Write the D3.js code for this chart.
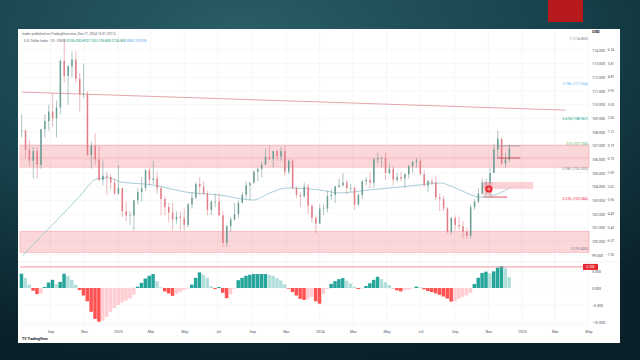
<!DOCTYPE html>
<html><head><meta charset="utf-8">
<script src="https://cdn.jsdelivr.net/npm/d3@7"></script>
<style>html,body{margin:0;padding:0;background:#0e2f38;overflow:hidden}svg{display:block}</style>
</head><body><svg id="c" width="640" height="360"></svg>
<script>
// ---------------- DATA ----------------
const firstWeek = "2022-07-11";   // weekly candles, Monday of each week
const opens  = [108.1,108.1,106.7,105.9,106.6,105.6,108.2,108.8,109.5,109.0,109.8,113.2,112.1,112.8,113.3,111.9,110.8,110.8,106.3,107.0,106.0,104.5,104.8,104.7,104.3,
 103.5,103.9,102.2,101.9,101.9,103.0,103.6,103.9,105.2,104.5,104.6,103.9,103.1,102.5,102.1,101.6,101.8,101.7,101.2,102.7,103.2,104.2,104.0,103.5,102.3,102.9,102.9,101.9,99.9,101.1,101.6,102.0,102.8,103.4,104.1,104.3,105.1,105.3,105.6,106.2,106.0,106.6,106.2,106.6,105.1,105.9,103.9,103.4,103.3,104.0,102.6,101.7,
 101.3,102.4,102.4,103.3,103.4,104.0,104.1,104.3,103.9,103.9,102.7,103.4,104.4,104.5,104.3,106.0,106.1,106.1,105.0,105.3,104.5,104.7,104.6,104.9,105.5,105.8,105.9,104.9,104.1,104.4,104.3,103.2,103.1,102.4,100.7,101.7,101.2,101.1,100.7,100.4,102.5,102.9,103.5,104.3,104.3,105.0,106.7,107.5,105.7,106.0];
const highs  = [109.3,108.2,107.4,106.9,106.9,108.2,109.3,110.0,110.8,110.3,113.3,114.8,112.9,113.9,113.9,112.3,113.0,111.0,107.3,107.9,107.0,105.9,105.1,104.9,104.6,
 105.6,103.9,102.9,102.2,103.0,103.9,104.7,105.3,105.4,105.9,105.1,104.0,103.3,102.8,102.8,102.2,102.2,102.4,102.8,103.6,104.3,104.7,104.4,103.7,103.0,103.5,103.5,102.2,101.2,101.8,102.8,103.0,103.6,104.4,104.2,105.2,105.4,105.8,106.8,107.0,106.6,106.7,106.9,107.0,106.0,106.0,104.0,103.6,104.3,104.2,102.7,101.9,
 102.7,102.7,103.7,103.8,104.1,104.6,105.0,104.5,104.2,104.0,103.5,104.5,104.7,105.1,106.1,106.5,106.2,106.5,105.7,105.5,105.0,105.1,105.0,105.6,105.9,106.1,106.0,105.2,104.5,104.6,104.8,103.5,103.3,102.5,101.8,101.9,101.8,101.5,101.0,102.7,103.1,103.9,104.6,104.6,105.4,107.1,108.1,107.6,106.5,107.1];
const lows   = [107.6,106.1,105.5,104.6,104.6,105.3,107.6,108.1,108.4,107.6,109.3,111.6,110.0,112.0,111.6,109.5,110.5,106.3,105.3,105.6,104.4,104.1,103.4,103.8,103.4,
 103.4,101.8,101.5,101.2,100.8,102.7,102.9,103.7,104.1,104.2,103.5,101.9,101.9,101.4,100.8,101.3,100.8,100.8,101.0,102.4,103.1,103.4,103.4,101.9,101.9,102.5,101.8,99.6,99.6,100.7,101.5,101.7,102.8,103.1,103.0,104.2,104.4,104.7,105.6,106.0,105.4,105.9,105.9,104.8,104.9,103.8,103.2,102.5,103.2,102.0,101.4,100.6,
 101.3,101.9,102.1,103.0,102.8,103.9,104.0,103.4,103.6,102.3,102.6,103.1,104.1,103.9,103.9,105.7,105.4,104.5,104.9,104.1,104.3,104.4,103.9,104.6,105.0,105.4,104.9,104.0,103.6,104.1,103.0,102.2,102.2,100.6,100.5,100.8,100.8,100.2,100.2,100.2,102.3,102.8,103.4,103.4,103.4,105.0,106.1,105.6,105.4,105.8];
const closes = [108.1,106.7,105.9,106.6,105.6,108.2,108.8,109.5,109.0,109.8,113.2,112.1,112.8,113.3,111.9,110.8,110.8,106.3,107.0,106.0,104.5,104.8,104.7,104.3,103.5,
 103.9,102.2,101.9,101.9,103.0,103.6,103.9,105.2,104.5,104.6,103.9,103.1,102.5,102.1,101.6,101.8,101.7,101.2,102.7,103.2,104.2,104.0,103.5,102.3,102.9,102.9,101.9,99.9,101.1,101.6,102.0,102.8,103.4,104.1,104.3,105.1,105.3,105.6,106.2,106.0,106.6,106.2,106.6,105.1,105.9,103.9,103.4,103.3,104.0,102.6,101.7,101.3,
 102.4,102.4,103.3,103.4,104.0,104.1,104.3,103.9,103.9,102.7,103.4,104.4,104.5,104.3,106.0,106.1,106.1,105.0,105.3,104.5,104.7,104.6,104.9,105.5,105.8,105.9,104.9,104.1,104.4,104.3,103.2,103.1,102.4,100.7,101.7,101.2,101.1,100.7,100.4,102.5,102.9,103.5,104.3,104.3,105.0,106.7,107.5,105.7,106.0,106.8];
const histogram = [4.2,3.0,1.0,-0.8,-1.8,-1.6,0.3,1.6,2.4,1.1,1.8,4.2,3.5,2.4,0.9,-0.6,-2.2,-3.9,-7.0,-9.1,-9.9,-9.6,-8.5,-7.0,-5.9,
 -5.0,-4.3,-3.7,-3.1,-2.0,0.4,1.5,2.8,3.6,4.1,2.0,0.2,-1.0,-1.6,-2.3,-1.8,-1.2,-0.6,-0.2,1.0,3.0,4.6,3.8,3.0,0.5,-0.3,0.3,-1.4,-3.0,-1.8,-0.2,2.3,3.0,3.6,3.9,4.1,4.1,4.1,4.1,3.9,3.6,2.9,2.2,1.1,-0.2,-1.2,-2.2,-3.2,-3.5,-3.3,-2.6,-3.9,
 -4.6,-1.8,-0.3,1.2,2.0,2.6,2.9,2.2,1.3,0.4,-0.3,-0.2,0.6,1.4,2.4,3.3,2.6,1.7,0.9,-0.1,-0.7,-1.0,-0.7,-0.5,-0.1,0.4,0.2,-0.4,-0.9,-1.2,-1.6,-2.0,-2.5,-3.1,-4.0,-3.9,-3.1,-2.6,-2.2,-1.4,1.2,3.0,4.4,4.8,4.3,4.9,6.0,6.4,5.8,3.2];
const maDates  = ["2022-07-13","2022-09-18","2022-10-24","2022-11-24","2022-12-17","2023-01-05","2023-03-05","2023-05-05","2023-07-04","2023-09-02","2023-10-03","2023-11-02","2024-01-01","2024-02-06","2024-03-31","2024-05-25","2024-07-01","2024-08-06","2024-08-29","2024-09-23","2024-10-16","2024-11-12","2024-12-09"];
const maValues = [98.97,101.77,103.3,104.57,104.64,104.35,104.13,103.6,103.39,103.02,103.54,103.9,103.76,103.54,103.76,103.98,104.13,104.27,103.98,103.54,103.24,103.39,103.9];
const priceTicks = [99,100,101,102,103,104,105,106,107,108,109,110,111,112,113,114];
const oscTicks = [5,0,-5,-10];
const timeTickDates  = ["2022-09-01","2022-11-01","2023-01-01","2023-03-01","2023-05-01","2023-07-01","2023-09-01","2023-11-01","2024-01-01","2024-03-01","2024-05-01","2024-07-01","2024-09-01","2024-11-01","2025-01-01","2025-03-01","2025-05-01"];
const timeTickLabels = ["Sep","Nov","2023","Mar","May","Jul","Sep","Nov","2024","Mar","May","Jul","Sep","Nov","2025","Mar","May"];
const fibLow = 99.45, fibHigh = 114.85;
const fibLevels = [1,0.786,0.618,0.5,0.382,0.236,0];
const fibColors = ["#787b86","#64b5f6","#089981","#4caf50","#787b86","#f23645","#787b86"];
const zones = [{top:107.04,bottom:105.43,mid:106.1},{top:100.74,bottom:99.2,mid:null}];
const trendStart = ["2022-07-12",110.92], trendEnd = ["2025-03-21",109.6];
const fvgBox = {from:"2024-10-23",to:"2025-01-21",top:104.34,bottom:103.83};
const entryBox = {from:"2024-10-23",to:"2024-11-08",top:104.34,bottom:103.24};
const entryLine = {from:"2024-10-23",to:"2024-12-05",value:103.24};
const signal = {date:"2024-11-02",value:103.83};
const recentLines = [{from:"2024-11-17",to:"2024-12-29",value:106.98,color:"#9598a1"},{from:"2024-11-17",to:"2024-12-29",value:106.1,color:"#b22833"}];
const oscLevel = 6.2;

// ---------------- DRAW ----------------
const W=640,H=360;
const svg=d3.select("#c");
const defs=svg.append("defs");
const rg=defs.append("radialGradient").attr("id","bg").attr("cx","38%").attr("cy","10%").attr("r","90%");
rg.append("stop").attr("offset","0%").attr("stop-color","#2a5e66");
rg.append("stop").attr("offset","55%").attr("stop-color","#17424c");
rg.append("stop").attr("offset","100%").attr("stop-color","#0a2129");
svg.append("rect").attr("width",W).attr("height",H).attr("fill","url(#bg)");
svg.append("rect").attr("x",548).attr("y",0).attr("width",35).attr("height",22).attr("fill","#b5191c");
svg.append("rect").attr("x",18).attr("y",29).attr("width",602).attr("height",314).attr("fill","#ffffff");

const parse=d3.utcParse("%Y-%m-%d");
const x=d3.scaleUtc().domain([parse("2022-07-08"),parse("2025-05-02")]).range([20,589]);
const y=d3.scaleLinear().domain([99,114]).range([255,50]);
const yo=d3.scaleLinear().domain([-10,5]).range([322,271]);
const start=parse(firstWeek);
const weeks=d3.utcMonday.range(start,d3.utcMonday.offset(start,closes.length));
const candles=weeks.map((d,i)=>({d,o:opens[i],h:highs[i],l:lows[i],c:closes[i],hv:histogram[i]}));

const font="Roboto, 'Liberation Sans', sans-serif";
// grid
const tDates=timeTickDates.map(parse);
const grid=svg.append("g").attr("stroke","#f1f1f3").attr("stroke-width",0.6);
grid.selectAll("line.v").data(tDates).join("line").attr("x1",d=>x(d)).attr("x2",d=>x(d)).attr("y1",30).attr("y2",325);
grid.selectAll("line.h").data(priceTicks).join("line").attr("x1",20).attr("x2",589).attr("y1",d=>y(d)).attr("y2",d=>y(d));
grid.selectAll("line.o").data(oscTicks).join("line").attr("x1",20).attr("x2",589).attr("y1",d=>yo(d)).attr("y2",d=>yo(d));

// zones
zones.forEach(z=>{
  svg.append("rect").attr("x",20).attr("width",569).attr("y",y(z.top)).attr("height",y(z.bottom)-y(z.top))
    .attr("fill","#f23645").attr("fill-opacity",0.2).attr("stroke","#f4a7ad").attr("stroke-width",0.6);
  if(z.mid!==null) svg.append("line").attr("x1",20).attr("x2",589).attr("y1",y(z.mid)).attr("y2",y(z.mid)).attr("stroke","#f4a7ad").attr("stroke-width",0.6);
});
// trendline
svg.append("line").attr("x1",x(parse(trendStart[0]))).attr("y1",y(trendStart[1])).attr("x2",x(parse(trendEnd[0]))).attr("y2",y(trendEnd[1]))
  .attr("stroke","#e39a9f").attr("stroke-width",0.9);

// fvg / entry boxes
[fvgBox,entryBox].forEach(b=>{
  svg.append("rect").attr("x",x(parse(b.from))).attr("width",x(parse(b.to))-x(parse(b.from))).attr("y",y(b.top)).attr("height",y(b.bottom)-y(b.top))
    .attr("fill","#f23645").attr("fill-opacity",0.22);
});
svg.append("line").attr("x1",x(parse(entryLine.from))).attr("x2",x(parse(entryLine.to))).attr("y1",y(entryLine.value)).attr("y2",y(entryLine.value)).attr("stroke","#e0424f").attr("stroke-width",0.9);

// MA
const ma=maDates.map((d,i)=>({d:parse(d),v:maValues[i]}));
svg.append("path").datum(ma).attr("fill","none").attr("stroke","#9cc8d1").attr("stroke-width",0.9)
  .attr("d",d3.line().x(d=>x(d.d)).y(d=>y(d.v)).curve(d3.curveMonotoneX));

// candles
const cg=svg.append("g");
const bw=1.5;
cg.selectAll("line").data(candles).join("line").attr("x1",d=>x(d.d)).attr("x2",d=>x(d.d)).attr("y1",d=>y(d.h)).attr("y2",d=>y(d.l))
  .attr("stroke",d=>d.c>=d.o?"#5f8f88":"#d9757c").attr("stroke-width",0.5);
cg.selectAll("rect").data(candles).join("rect").attr("x",d=>x(d.d)-bw/2).attr("width",bw)
  .attr("y",d=>y(Math.max(d.o,d.c))).attr("height",d=>Math.max(0.6,Math.abs(y(d.o)-y(d.c))))
  .attr("fill",d=>d.c>=d.o?"#6a9e95":"#e27d85");

// recent lines
recentLines.forEach(l=>svg.append("line").attr("x1",x(parse(l.from))).attr("x2",x(parse(l.to))).attr("y1",y(l.value)).attr("y2",y(l.value)).attr("stroke",l.color).attr("stroke-width",0.7));

// signal marker
svg.append("circle").attr("cx",x(parse(signal.date))).attr("cy",y(signal.value)).attr("r",3.6).attr("fill","#e8252f");
svg.append("circle").attr("cx",x(parse(signal.date))).attr("cy",y(signal.value)).attr("r",1.2).attr("fill","none").attr("stroke","#fff").attr("stroke-width",0.6);

// fib labels
const fmt3=d3.format(".3f");
svg.append("g").selectAll("text").data(fibLevels).join("text")
  .attr("x",588).attr("y",d=>y(fibLow+d*(fibHigh-fibLow))).attr("dy","0.35em").attr("text-anchor","end")
  .attr("font-family",font).attr("font-size",3.6).attr("fill",(d,i)=>fibColors[i])
  .text(d=>`${d} (${fmt3(fibLow+d*(fibHigh-fibLow))})`);

// oscillator
const step=x(weeks[1])-x(weeks[0]);
svg.append("g").selectAll("rect").data(candles).join("rect")
  .attr("x",d=>x(d.d)-step/2).attr("width",step*0.9)
  .attr("y",d=>d.hv>=0?yo(d.hv):yo(0)).attr("height",d=>Math.abs(yo(d.hv)-yo(0)))
  .attr("fill",(d,i)=>{const p=i>0?candles[i-1].hv:d.hv;
     if(d.hv>=0) return d.hv>=p?"#26a69a":"#b2dfdb"; return d.hv<=p?"#ff5252":"#ffcdd2";});
svg.append("line").attr("x1",20).attr("x2",589).attr("y1",yo(oscLevel)).attr("y2",yo(oscLevel)).attr("stroke","#f07a82").attr("stroke-width",0.8);
svg.append("line").attr("x1",18).attr("x2",620).attr("y1",262).attr("y2",262).attr("stroke","#e6e6ea").attr("stroke-width",0.6);
svg.append("line").attr("x1",20).attr("x2",589).attr("y1",325).attr("y2",325).attr("stroke","#eeeeee").attr("stroke-width",0.6);

// price axis
const pa=svg.append("g").attr("transform","translate(590,0)").call(d3.axisRight(y).tickValues(priceTicks).tickSize(0).tickFormat(fmt3));
pa.select(".domain").remove();
pa.selectAll("text").attr("font-family",font).attr("font-size",3.6).attr("fill","#50535e").attr("x",2);
const lastClose=closes[closes.length-1];
svg.append("g").selectAll("text").data(priceTicks).join("text").attr("x",614).attr("y",d=>y(d)).attr("dy","0.35em").attr("text-anchor","end")
  .attr("font-family",font).attr("font-size",3.2).attr("fill","#50535e").text(d=>d3.format(".2f")((d-lastClose)/lastClose*100));
svg.append("text").attr("x",592).attr("y",33).attr("font-family",font).attr("font-size",4).attr("font-weight","bold").attr("fill","#131722").text("USD");
const oa=svg.append("g").attr("transform","translate(590,0)").call(d3.axisRight(yo).tickValues(oscTicks).tickSize(0).tickFormat(fmt3));
oa.select(".domain").remove();
oa.selectAll("text").attr("font-family",font).attr("font-size",3.6).attr("fill","#50535e").attr("x",2);
svg.append("rect").attr("x",583).attr("y",yo(oscLevel)-3).attr("width",15).attr("height",6).attr("fill","#e3262f");
svg.append("text").attr("x",590.5).attr("y",yo(oscLevel)).attr("dy","0.35em").attr("text-anchor","middle").attr("font-family",font).attr("font-size",3.3).attr("fill","#fff").text(fmt3(oscLevel));

// time axis
const ta=svg.append("g").attr("transform","translate(0,327)").call(d3.axisBottom(x).tickValues(tDates).tickSize(0).tickFormat((d,i)=>timeTickLabels[i]));
ta.select(".domain").remove();
ta.selectAll("text").attr("font-family",font).attr("font-size",3.8).attr("fill","#50535e").attr("dy","0.9em");

// header
svg.append("text").attr("x",22).attr("y",35).attr("font-family",font).attr("font-size",3.3).attr("fill","#5d606b")
  .text("trader published on TradingView.com, Dec 17, 2024 15:01 UTC-5");
const hdr=svg.append("text").attr("x",24).attr("y",42).attr("font-family",font).attr("font-size",3.3).attr("fill","#5d606b");
hdr.append("tspan").text("U.S. Dollar Index · 1D · ICEUS  ");
hdr.append("tspan").attr("fill","#089981").text(`O${fmt3(opens[opens.length-1])} H${fmt3(highs[highs.length-1])} L${fmt3(lows[lows.length-1])} C${fmt3(lastClose)}  `);
hdr.append("tspan").attr("fill","#5b9cf6").text(`SMA ${fmt3(maValues[maValues.length-1])}`);
// footer logo
svg.append("text").attr("x",22).attr("y",340).attr("font-family",font).attr("font-size",3.6).attr("font-weight","bold").attr("fill","#131722").text("TV TradingView");
</script>
</body></html>
